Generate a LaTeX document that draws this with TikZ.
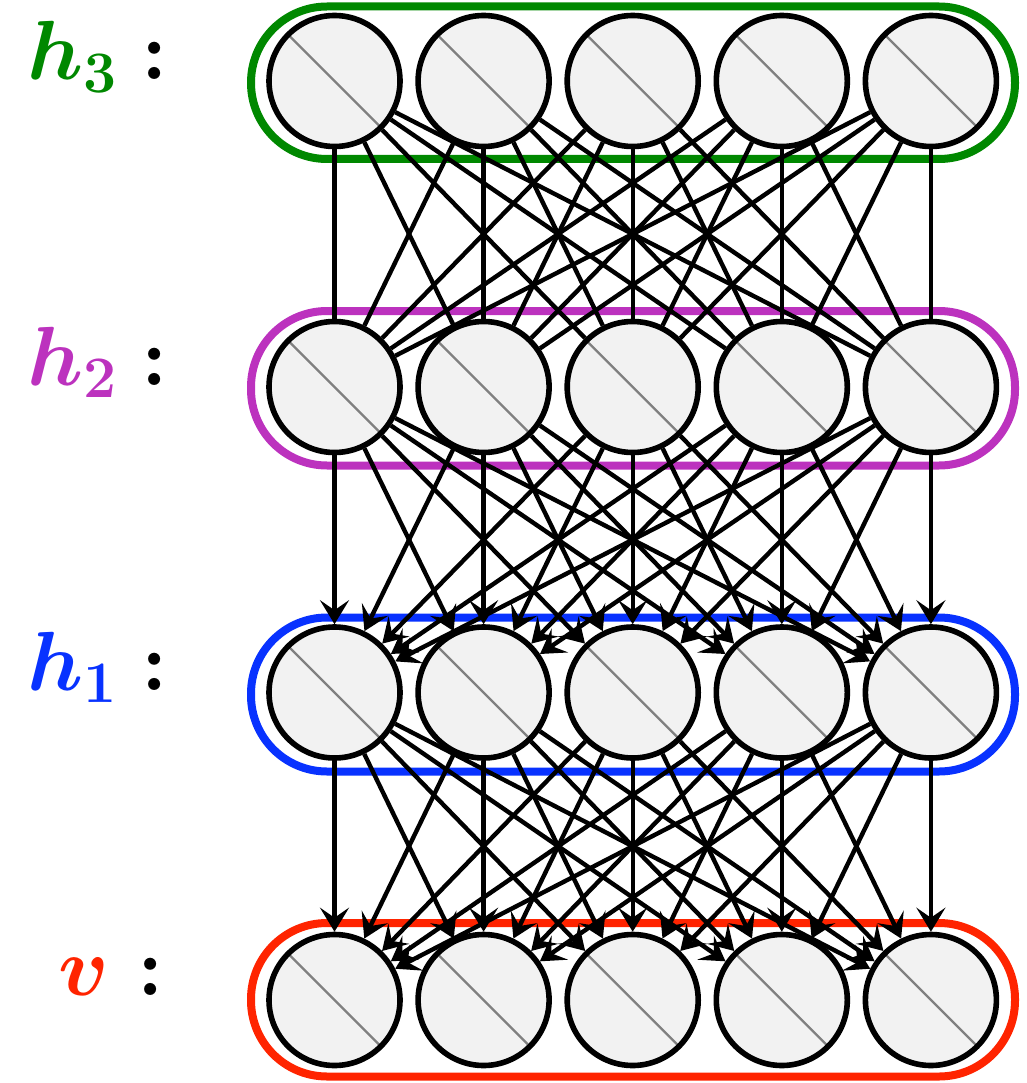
\RequirePackage{fix-cm}
\documentclass[tikz,border=0pt]{standalone}
\usepackage{bm}
\usetikzlibrary{arrows.meta}
\definecolor{cgreen}{RGB}{0,136,0}
\definecolor{cpurple}{RGB}{188,50,190}
\definecolor{cblue}{RGB}{8,50,255}
\definecolor{cred}{RGB}{255,36,0}
\definecolor{nfill}{RGB}{242,242,242}
\definecolor{dgray}{RGB}{128,128,128}
\begin{document}
\begin{tikzpicture}[x=1pt,y=-1pt,
  neuron/.style={circle, draw=black, line width=5.6pt, fill=nfill, minimum size=131pt, inner sep=0pt,
    path picture={\draw[dgray, line width=2.3pt] (path picture bounding box.north west) -- (path picture bounding box.south east);}},
  conn/.style={line width=4.4pt, line cap=butt},
  arr/.style={conn, -{Stealth[length=24pt,width=29pt,inset=10pt]}},
  layerbox/.style={line width=8pt, rounded corners=76pt},
  lab/.style={inner sep=0pt, font=\fontsize{84}{92}\selectfont},
  colon/.style={inner sep=0pt, anchor=base, font=\fontsize{84}{92}\selectfont\bfseries}]
\useasboundingbox (0,0) rectangle (1026,1083);
% layer boxes
\draw[layerbox, draw=cgreen]  (251,6.5) rectangle (1015,159);
\draw[layerbox, draw=cpurple] (251,311) rectangle (1015,465.5);
\draw[layerbox, draw=cblue]   (251,617.5) rectangle (1015,771.5);
\draw[layerbox, draw=cred]    (251,923) rectangle (1015,1076.5);
% neurons
\foreach \i in {1,...,5}{
  \pgfmathsetmacro{\xx}{334.5+149.1*(\i-1)}
  \node[neuron] (h3-\i) at (\xx,81) {};
  \node[neuron] (h2-\i) at (\xx,387) {};
  \node[neuron] (h1-\i) at (\xx,692.5) {};
  \node[neuron] (v-\i)  at (\xx,1000) {};
}
% connections
\foreach \i in {1,...,5}{
  \foreach \j in {1,...,5}{
    \draw[conn] (h3-\i) -- (h2-\j);
    \draw[arr] (h2-\i) -- (h1-\j);
    \draw[arr] (h1-\i) -- (v-\j);
  }
}
% labels
\node[lab, anchor=base west, text=cgreen]  (l3) at (27,80) {$\bm{h_3}$};
\node[lab, anchor=base west, text=cpurple] (l2) at (27,385) {$\bm{h_2}$};
\node[lab, anchor=base west, text=cblue]   (l1) at (27,690) {$\bm{h_1}$};
\node[lab, anchor=base west, text=cred]    (lv) at (58,995) {$\bm{v}$};
\node[colon] (c3) at (155,80) {:};
\node[colon] (c2) at (155,385) {:};
\node[colon] (c1) at (155,690) {:};
\node[colon] (cv) at (151,995) {:};
\end{tikzpicture}
\end{document}
